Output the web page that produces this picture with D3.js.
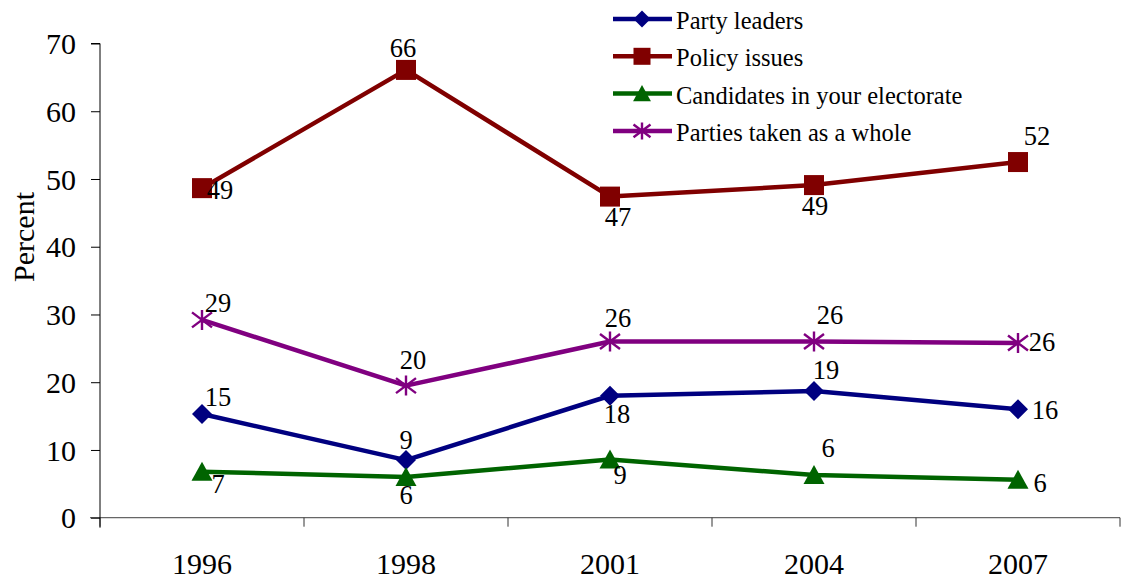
<!DOCTYPE html>
<html><head><meta charset="utf-8">
<script src="https://cdn.jsdelivr.net/npm/d3@7"></script>
<style>body{margin:0;background:#fff}svg{display:block}svg text{font-family:"Liberation Serif",serif !important}</style>
</head><body>
<svg id="c" width="1122" height="580"></svg>
<script>
const years = ["1996","1998","2001","2004","2007"];
const seriesNames = ["Party leaders","Policy issues","Candidates in your electorate","Parties taken as a whole"];
const partyLeaders = [15.3, 8.5, 18.0, 18.7, 16.0];
const policyIssues = [48.65, 66.1, 47.4, 49.1, 52.5];
const candidates   = [6.8, 6.0, 8.6, 6.3, 5.6];
const partiesWhole = [29.2, 19.5, 26.0, 26.0, 25.8];
const partyLeadersLabels = ["15","9","18","19","16"];
const policyIssuesLabels = ["49","66","47","49","52"];
const candidatesLabels   = ["7","6","9","6","6"];
const partiesWholeLabels = ["29","20","26","26","26"];
const yTicks = [0,10,20,30,40,50,60,70];

// layout / style (not data)
const colors = ["#000080","#800000","#006400","#800080"];
const markers = ["diamond","square","triangle","asterisk"];
const labelOffsets = [
  [[16,-17],[0,-20],[7,18],[12,-21],[27,1]],
  [[18,2],[-3,-22],[8,20],[1,21],[19,-26]],
  [[16,12],[0,18],[10,16],[14,-27],[22,3]],
  [[16,-17],[7,-26],[8,-24],[16,-27],[24,-1]]
];

const series = [
  {name: seriesNames[0], values: partyLeaders, labels: partyLeadersLabels},
  {name: seriesNames[1], values: policyIssues, labels: policyIssuesLabels},
  {name: seriesNames[2], values: candidates, labels: candidatesLabels},
  {name: seriesNames[3], values: partiesWhole, labels: partiesWholeLabels}
];

const svg = d3.select("#c");
const font = "Liberation Serif";
const L = 100, R = 1120, T = 43.5, B = 517.7;

const x = d3.scaleBand().domain(years).range([L, R]).paddingInner(0).paddingOuter(0);
const y = d3.scaleLinear().domain([0,70]).range([B, T]);
const cx = d => x(d) + x.bandwidth()/2;

// X axis line + ticks
const xAxis = svg.append("g").attr("transform", `translate(0,${B})`).attr("font-family", font);
xAxis.append("line").attr("x1", L - 10).attr("x2", R).attr("y1",0).attr("y2",0).attr("stroke","#666").attr("stroke-width",1.2);
const bounds = years.map(yv => x(yv)).concat([R]);
xAxis.selectAll("line.tk").data(bounds).join("line").attr("class","tk")
  .attr("x1", d=>d).attr("x2", d=>d).attr("y1",0).attr("y2",9).attr("stroke","#333");
xAxis.selectAll("text").data(years).join("text")
  .attr("x", d=>cx(d)).attr("y", 56).attr("text-anchor","middle")
  .attr("font-size", 30).attr("fill","#000").text(d=>d);

// Y axis
const yAxis = svg.append("g").attr("transform", `translate(${L},0)`)
  .call(d3.axisLeft(y).tickValues(yTicks).tickSize(9).tickPadding(15));
yAxis.attr("font-family", font);
yAxis.select(".domain").attr("stroke","#000").attr("d", `M-9,${T}H0V${B+10}`);
yAxis.selectAll(".tick line").attr("stroke","#000");
yAxis.selectAll("text").attr("font-size", 30).attr("fill","#000").attr("dy","0.34em");

// Y title
svg.append("text").attr("transform","translate(34,237) rotate(-90)")
  .attr("text-anchor","middle").attr("font-family", font).attr("font-size", 30).attr("fill","#000").text("Percent");

function drawMarker(g, type, color, size) {
  const h = size/2;
  if (type === "diamond") {
    g.append("path").attr("d", `M0,${-h}L${h},0L0,${h}L${-h},0Z`).attr("fill", color);
  } else if (type === "square") {
    g.append("rect").attr("x",-h).attr("y",-h).attr("width",size).attr("height",size).attr("fill",color);
  } else if (type === "triangle") {
    g.append("path").attr("d", `M0,${-h}L${h*1.05},${h*0.9}L${-h*1.05},${h*0.9}Z`).attr("fill", color);
  } else {
    g.append("path").attr("d", `M${-h},${-h*0.75}L${h},${h*0.75}M${-h},${h*0.75}L${h},${-h*0.75}M0,${-h}L0,${h}`)
      .attr("stroke", color).attr("stroke-width", 2.4).attr("fill","none");
  }
}

const line = d3.line().x(d=>cx(d.year)).y(d=>y(d.v));
series.forEach((s, i) => {
  const pts = years.map((yr, j) => ({year: yr, v: s.values[j], label: s.labels[j], j}));
  svg.append("path").datum(pts).attr("d", line).attr("fill","none")
    .attr("stroke", colors[i]).attr("stroke-width", 4.5).attr("stroke-linejoin","round");
  pts.forEach(p => {
    const g = svg.append("g").attr("transform", `translate(${cx(p.year)},${y(p.v)})`);
    drawMarker(g, markers[i], colors[i], 20);
  });
  svg.selectAll(null).data(pts).join("text")
    .attr("x", p => cx(p.year) + labelOffsets[i][p.j][0])
    .attr("y", p => y(p.v) + labelOffsets[i][p.j][1])
    .attr("text-anchor","middle").attr("dy","0.34em")
    .attr("font-family", font).attr("font-size", 26.5).attr("fill","#000")
    .text(p => p.label);
});

// Legend
const leg = svg.append("g");
series.forEach((s, i) => {
  const ly = 19 + i*37.3;
  leg.append("line").attr("x1",613).attr("x2",672).attr("y1",ly).attr("y2",ly)
    .attr("stroke", colors[i]).attr("stroke-width",4.5);
  const g = leg.append("g").attr("transform", `translate(642,${ly})`);
  drawMarker(g, markers[i], colors[i], 17);
  leg.append("text").attr("x",676).attr("y",ly + 10)
    .attr("font-family", font).attr("font-size", 24.5).attr("fill","#000").text(s.name);
});
</script>
</body></html>
